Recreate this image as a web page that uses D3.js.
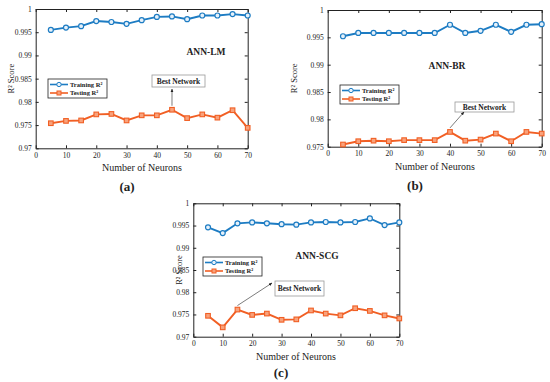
<!DOCTYPE html>
<html>
<head>
<meta charset="utf-8">
<script src="https://cdnjs.cloudflare.com/ajax/libs/d3/7.8.5/d3.min.js"></script>
<style>
  body { margin: 0; background: #fff; }
  svg text { font-family: "Liberation Serif", "Times New Roman", serif !important; fill: #222; }
</style>
</head>
<body>
<div id="container"></div>
<script>
// neurons in the hidden layer
var neurons = [5, 10, 15, 20, 25, 30, 35, 40, 45, 50, 55, 60, 65, 70];

// ANN-LM
var lmTrain = [0.9955, 0.9960, 0.9963, 0.9974, 0.9972, 0.9968, 0.9976, 0.9983, 0.9984, 0.9978, 0.9986, 0.9986, 0.9989, 0.9986];
var lmTest  = [0.9754, 0.9759, 0.9760, 0.9773, 0.9774, 0.9760, 0.9771, 0.9771, 0.9783, 0.9765, 0.9773, 0.9766, 0.9782, 0.9744];

// ANN-BR
var brTrain = [0.9952, 0.9958, 0.9958, 0.9958, 0.9958, 0.9958, 0.9958, 0.9973, 0.9958, 0.9962, 0.9973, 0.9960, 0.9973, 0.9974];
var brTest  = [0.9754, 0.9760, 0.9761, 0.9760, 0.9762, 0.9762, 0.9762, 0.9777, 0.9761, 0.9763, 0.9774, 0.9760, 0.9777, 0.9774];

// ANN-SCG
var scgTrain = [0.9946, 0.9933, 0.9955, 0.9957, 0.9955, 0.9953, 0.9952, 0.9957, 0.9958, 0.9957, 0.9958, 0.9966, 0.9951, 0.9957];
var scgTest  = [0.9747, 0.9721, 0.9761, 0.9749, 0.9752, 0.9738, 0.9739, 0.9759, 0.9752, 0.9748, 0.9764, 0.9758, 0.9748, 0.9741];

var xTicks = [0, 10, 20, 30, 40, 50, 60, 70];
var yTicksWide = [0.97, 0.975, 0.98, 0.985, 0.99, 0.995, 1];
var yTicksNarrow = [0.975, 0.98, 0.985, 0.99, 0.995, 1];

var blue = "#1d7cc3", orange = "#f15f24";

var width = 550, height = 382;
var svg = d3.select("div#container").append("svg")
  .attr("width", width)
  .attr("height", height);

svg.append("defs").append("marker")
  .attr("id", "head")
  .attr("viewBox", "0 0 10 10")
  .attr("refX", 9).attr("refY", 5)
  .attr("markerWidth", 5).attr("markerHeight", 5)
  .attr("orient", "auto-start-reverse")
  .append("path").attr("d", "M0,1 L10,5 L0,9 z").attr("fill", "#222");

var panels = [
  { cap: "(a)", title: "ANN-LM", train: lmTrain, test: lmTest, yTicks: yTicksWide,
    left: 35.7, right: 247.7, top: 9, bottom: 148.3,
    yLab: 11, capX: 127, capY: 191, xLabX: 142,
    titleX: 206, titleY: 55, legX: 48, legY: 79,
    best: { x: 152, y: 75, w: 53, h: 12, idx: 8, tipX: 172, tipY: 89 } },
  { cap: "(b)", title: "ANN-BR", train: brTrain, test: brTest, yTicks: yTicksNarrow,
    left: 327.7, right: 541.7, top: 10, bottom: 146.7,
    yLab: 294, capX: 415, capY: 190, xLabX: 435,
    titleX: 447, titleY: 69, legX: 340, legY: 85,
    best: { x: 455, y: 102, w: 59, h: 10, idx: 7, tipX: 464, tipY: 112 } },
  { cap: "(c)", title: "ANN-SCG", train: scgTrain, test: scgTest, yTicks: yTicksWide,
    left: 193.3, right: 399.3, top: 203.3, bottom: 336.7,
    yLab: 179, capX: 281, capY: 377, xLabX: 296,
    titleX: 317, titleY: 259, legX: 203, legY: 257,
    best: { x: 275, y: 281, w: 49, h: 15, idx: 2, tipX: 272, tipY: 283 } }
];

panels.forEach(function (p) {
  var g = svg.append("g");
  var x = d3.scaleLinear().domain([0, 70]).range([p.left, p.right]);
  var y = d3.scaleLinear().domain([p.yTicks[0], 1]).range([p.bottom, p.top]);

  // box with inward ticks on all sides (matlab style)
  g.append("g").attr("transform", "translate(0," + p.bottom + ")")
    .call(d3.axisBottom(x).tickValues(xTicks).tickSizeInner(-3).tickSizeOuter(0).tickPadding(4)
      .tickFormat(d3.format("d")));
  g.append("g").attr("transform", "translate(0," + p.top + ")")
    .call(d3.axisTop(x).tickValues(xTicks).tickSizeInner(-3).tickSizeOuter(0).tickFormat(""));
  g.append("g").attr("transform", "translate(" + p.left + ",0)")
    .call(d3.axisLeft(y).tickValues(p.yTicks).tickSizeInner(-3).tickSizeOuter(0).tickPadding(4)
      .tickFormat(function (d) { return d === 1 ? "1" : d3.format("")(+d.toFixed(3)); }));
  g.append("g").attr("transform", "translate(" + p.right + ",0)")
    .call(d3.axisRight(y).tickValues(p.yTicks).tickSizeInner(-3).tickSizeOuter(0).tickFormat(""));
  g.selectAll("g").attr("font-family", null);
  g.selectAll(".domain").attr("stroke", "#222").attr("stroke-width", 1);
  g.selectAll(".tick line").attr("stroke", "#222");
  g.selectAll(".tick text").style("font-size", "7.5px").attr("fill", "#222");

  // axis labels
  g.append("text").attr("x", p.xLabX).attr("y", p.bottom + 23)
    .attr("text-anchor", "middle").style("font-size", "10px").text("Number of Neurons");
  g.append("text").attr("transform", "translate(" + p.yLab + "," + ((p.top + p.bottom) / 2) + ") rotate(-90)")
    .attr("text-anchor", "middle").attr("dy", "0.35em").style("font-size", "8.5px").text("R\u00b2 Score");
  g.append("text").attr("x", p.capX).attr("y", p.capY)
    .attr("text-anchor", "middle").style("font-size", "13px").style("font-weight", "bold").text(p.cap);

  var line = d3.line().x(function (d, i) { return x(neurons[i]); }).y(function (d) { return y(d); });

  // training curve
  g.append("path").datum(p.train).attr("d", line)
    .attr("fill", "none").attr("stroke", blue).attr("stroke-width", 1.9);
  g.selectAll(".tr").data(p.train).enter().append("circle")
    .attr("cx", function (d, i) { return x(neurons[i]); })
    .attr("cy", function (d) { return y(d); })
    .attr("r", 2.5).attr("fill", "#e6f1fa").attr("stroke", blue).attr("stroke-width", 1.2);

  // testing curve
  g.append("path").datum(p.test).attr("d", line)
    .attr("fill", "none").attr("stroke", orange).attr("stroke-width", 1.9);
  g.selectAll(".te").data(p.test).enter().append("rect")
    .attr("x", function (d, i) { return x(neurons[i]) - 2.3; })
    .attr("y", function (d) { return y(d) - 2.3; })
    .attr("width", 4.6).attr("height", 4.6)
    .attr("fill", "#f8a27c").attr("stroke", orange).attr("stroke-width", 1.1);

  // title
  g.append("text").attr("x", p.titleX).attr("y", p.titleY)
    .attr("text-anchor", "middle").style("font-size", "9.5px").style("font-weight", "bold").text(p.title);

  // legend
  var lg = g.append("g").attr("transform", "translate(" + p.legX + "," + p.legY + ")");
  lg.append("rect").attr("width", 59).attr("height", 19).attr("fill", "#fff")
    .attr("stroke", "#222").attr("stroke-width", 0.8);
  [{ c: blue, t: "Training R\u00b2", m: "c" }, { c: orange, t: "Testing R\u00b2", m: "s" }].forEach(function (e, i) {
    var yy = 5.5 + i * 8.5;
    lg.append("line").attr("x1", 2).attr("x2", 20).attr("y1", yy).attr("y2", yy)
      .attr("stroke", e.c).attr("stroke-width", 1.6);
    if (e.m === "c") {
      lg.append("circle").attr("cx", 11).attr("cy", yy).attr("r", 2.2)
        .attr("fill", "#e6f1fa").attr("stroke", e.c).attr("stroke-width", 1);
    } else {
      lg.append("rect").attr("x", 9).attr("y", yy - 2).attr("width", 4).attr("height", 4)
        .attr("fill", "#f8a27c").attr("stroke", e.c).attr("stroke-width", 1);
    }
    lg.append("text").attr("x", 22).attr("y", yy).attr("dy", "0.35em")
      .style("font-size", "6.5px").style("font-weight", "bold").text(e.t);
  });

  // best network annotation
  var b = p.best;
  g.append("rect").attr("x", b.x).attr("y", b.y).attr("width", b.w).attr("height", b.h)
    .attr("fill", "#fff").attr("stroke", "#999").attr("stroke-width", 0.8);
  g.append("text").attr("x", b.x + b.w / 2).attr("y", b.y + b.h / 2).attr("dy", "0.35em")
    .attr("text-anchor", "middle").style("font-size", "7.5px").style("font-weight", "bold").text("Best Network");
  var px = x(neurons[b.idx]), py = y(p.test[b.idx]) - 4;
  g.append("line").attr("x1", px).attr("y1", py).attr("x2", b.tipX).attr("y2", b.tipY)
    .attr("stroke", "#444").attr("stroke-width", 0.7).attr("marker-end", "url(#head)");
});
</script>
</body>
</html>
